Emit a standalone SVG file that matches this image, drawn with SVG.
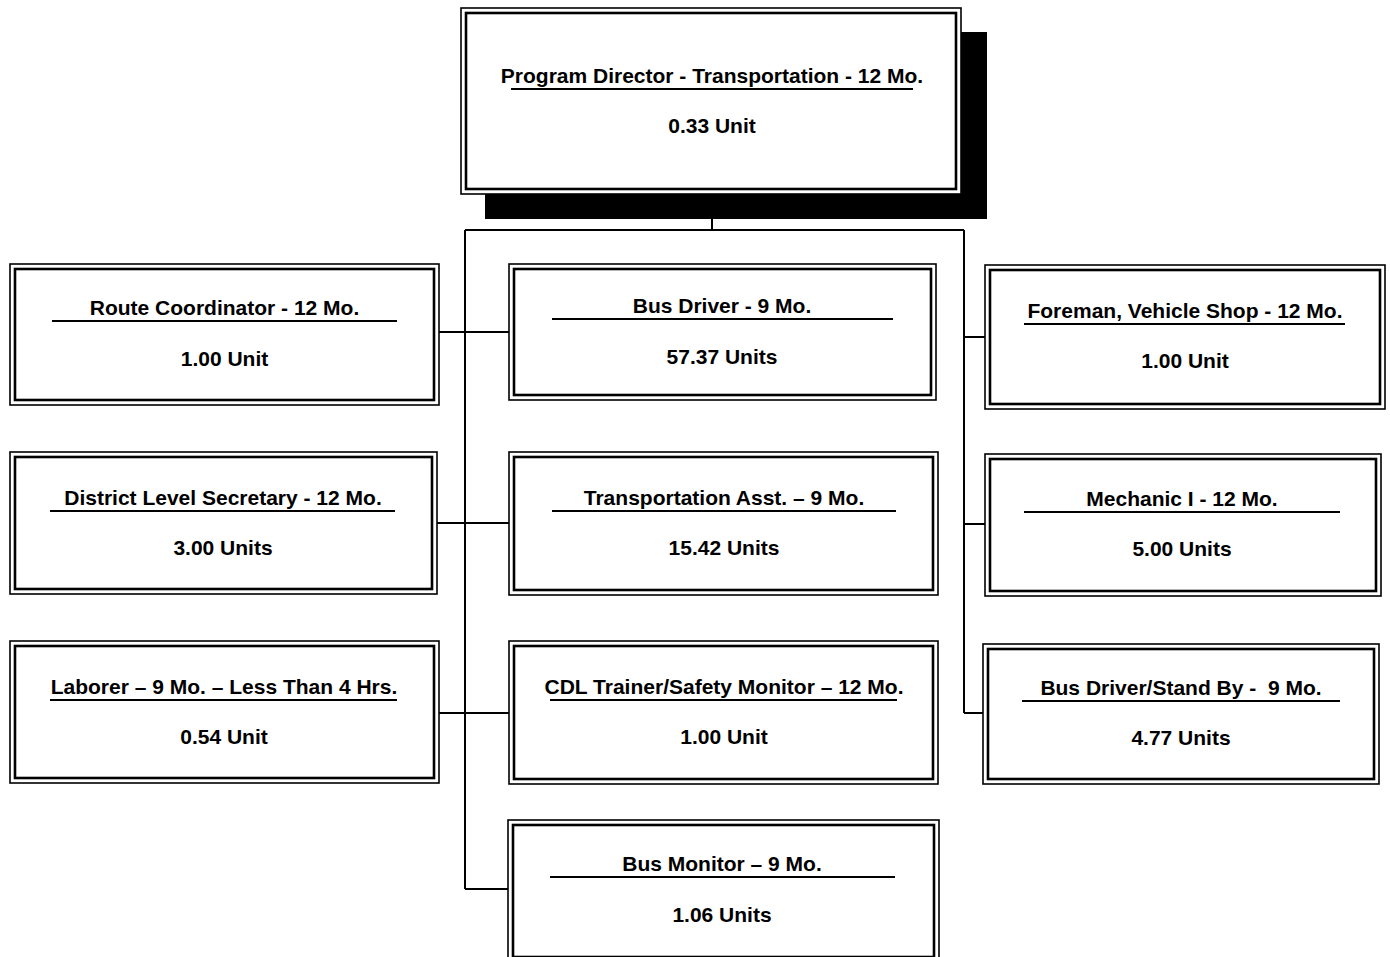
<svg xmlns="http://www.w3.org/2000/svg" width="1390" height="957" viewBox="0 0 1390 957">
<style>
.o{fill:#fff;stroke:#000;stroke-width:1.6}
.i{fill:none;stroke:#000;stroke-width:2.6}
.u{stroke:#000;stroke-width:2}
.t{font-family:"Liberation Sans",Arial,sans-serif;font-weight:bold;font-size:21px;fill:#000;text-anchor:middle}
.c{fill:none;stroke:#000;stroke-width:2}
</style>
<rect width="1390" height="957" fill="#fff"/>
<g id="connectors">
<path class="c" d="M712,194V230M465,230H964M465,230V889M964,230V713"/>
<path class="c" d="M439,332H509M437,523H509M439,713H509M465,889H508"/>
<path class="c" d="M964,337H985M964,524H985M964,713H983"/>
</g>
<g id="director">
<rect x="485" y="32" width="502" height="187" fill="#000"/>
<rect class="o" x="461" y="8" width="500" height="186"/>
<rect class="i" x="466" y="13" width="490" height="176"/>
<text class="t" x="712" y="83">Program Director - Transportation - 12 Mo.</text>
<line class="u" x1="511" y1="89" x2="913" y2="89"/>
<text class="t" x="712" y="133">0.33 Unit</text>
</g>
<g id="route-coordinator">
<rect class="o" x="10" y="264" width="429" height="141"/>
<rect class="i" x="15" y="269" width="419" height="131"/>
<text class="t" x="224.5" y="315">Route Coordinator - 12 Mo.</text>
<line class="u" x1="52" y1="321" x2="397" y2="321"/>
<text class="t" x="224.5" y="366">1.00 Unit</text>
</g>
<g id="bus-driver">
<rect class="o" x="509" y="264" width="427" height="136"/>
<rect class="i" x="514" y="269" width="417" height="126"/>
<text class="t" x="722" y="313">Bus Driver - 9 Mo.</text>
<line class="u" x1="552" y1="319" x2="893" y2="319"/>
<text class="t" x="722" y="364">57.37 Units</text>
</g>
<g id="foreman">
<rect class="o" x="985" y="265" width="400" height="144"/>
<rect class="i" x="990" y="270" width="390" height="134"/>
<text class="t" x="1185" y="318">Foreman, Vehicle Shop - 12 Mo.</text>
<line class="u" x1="1024" y1="324" x2="1345" y2="324"/>
<text class="t" x="1185" y="368">1.00 Unit</text>
</g>
<g id="district-secretary">
<rect class="o" x="10" y="452" width="427" height="142"/>
<rect class="i" x="15" y="457" width="417" height="132"/>
<text class="t" x="223" y="505">District Level Secretary - 12 Mo.</text>
<line class="u" x1="50" y1="511" x2="395" y2="511"/>
<text class="t" x="223" y="555">3.00 Units</text>
</g>
<g id="transportation-asst">
<rect class="o" x="509" y="452" width="429" height="143"/>
<rect class="i" x="514" y="457" width="419" height="133"/>
<text class="t" x="724" y="505">Transportation Asst. – 9 Mo.</text>
<line class="u" x1="552" y1="511" x2="896" y2="511"/>
<text class="t" x="724" y="555">15.42 Units</text>
</g>
<g id="mechanic">
<rect class="o" x="985" y="454" width="396" height="142"/>
<rect class="i" x="990" y="459" width="386" height="132"/>
<text class="t" x="1182" y="506">Mechanic I - 12 Mo.</text>
<line class="u" x1="1024" y1="512" x2="1340" y2="512"/>
<text class="t" x="1182" y="556">5.00 Units</text>
</g>
<g id="laborer">
<rect class="o" x="10" y="641" width="429" height="142"/>
<rect class="i" x="15" y="646" width="419" height="132"/>
<text class="t" x="224" y="694">Laborer – 9 Mo. – Less Than 4 Hrs.</text>
<line class="u" x1="50" y1="700" x2="397" y2="700"/>
<text class="t" x="224" y="744">0.54 Unit</text>
</g>
<g id="cdl-trainer">
<rect class="o" x="509" y="641" width="429" height="143"/>
<rect class="i" x="514" y="646" width="419" height="133"/>
<text class="t" x="724" y="694">CDL Trainer/Safety Monitor – 12 Mo.</text>
<line class="u" x1="550" y1="700" x2="897" y2="700"/>
<text class="t" x="724" y="744">1.00 Unit</text>
</g>
<g id="bus-driver-standby">
<rect class="o" x="983" y="644" width="396" height="140"/>
<rect class="i" x="988" y="649" width="386" height="130"/>
<text class="t" x="1181" y="695">Bus Driver/Stand By -&#160; 9 Mo.</text>
<line class="u" x1="1022" y1="701" x2="1340" y2="701"/>
<text class="t" x="1181" y="745">4.77 Units</text>
</g>
<g id="bus-monitor">
<rect class="o" x="508" y="820" width="431" height="142"/>
<rect class="i" x="513" y="825" width="421" height="132"/>
<text class="t" x="722" y="871">Bus Monitor – 9 Mo.</text>
<line class="u" x1="550" y1="877" x2="895" y2="877"/>
<text class="t" x="722" y="922">1.06 Units</text>
</g>
</svg>
